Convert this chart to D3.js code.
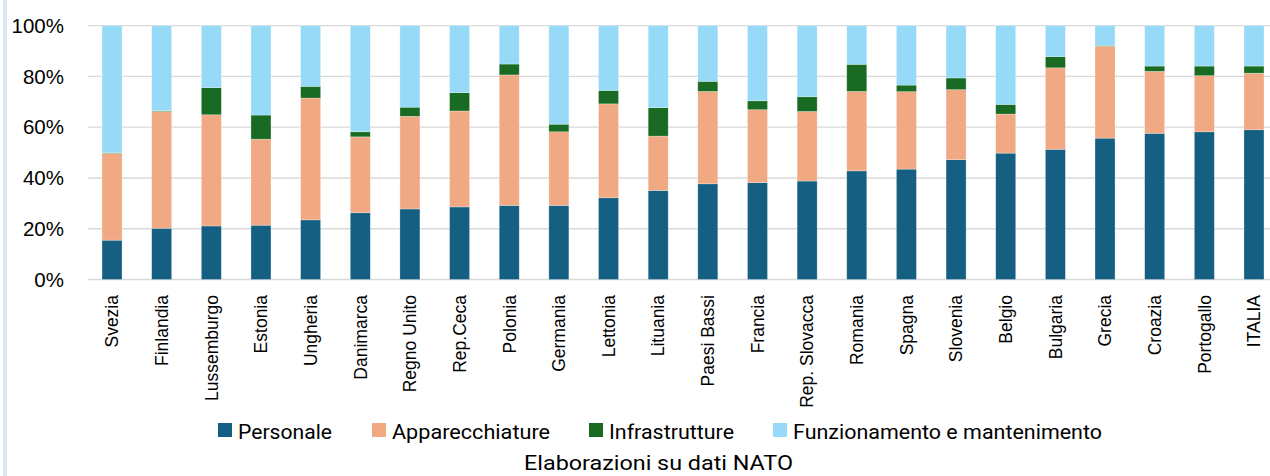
<!DOCTYPE html>
<html>
<head>
<meta charset="utf-8">
<script src="https://cdn.jsdelivr.net/npm/d3@7"></script>
<style>
  body { margin: 0; background: #fff; }
  svg { display: block; }
</style>
</head>
<body>
<div id="chart"></div>
<script>
// countries, sorted as in the source
var countries = ["Svezia","Finlandia","Lussemburgo","Estonia","Ungheria","Danimarca","Regno Unito",
  "Rep.Ceca","Polonia","Germania","Lettonia","Lituania","Paesi Bassi","Francia","Rep. Slovacca",
  "Romania","Spagna","Slovenia","Belgio","Bulgaria","Grecia","Croazia","Portogallo","ITALIA"];

// shares in %
var personale       = [15.5,20.2,21.1,21.4,23.5,26.3,27.8,28.6,29.2,29.2,32.2,35.1,37.7,38.2,38.8,42.8,43.5,47.2,49.8,51.3,55.7,57.6,58.2,59.0];
var apparecchiature = [34.2,46.0,43.8,33.9,48.0,29.9,36.5,37.8,51.4,29.0,37.0,21.4,36.4,28.7,27.4,31.3,30.5,27.6,15.4,32.1,36.2,24.4,22.1,22.3];
var infrastrutture  = [0.3,0.3,10.7,9.5,4.6,2.0,3.6,7.2,4.3,3.0,5.3,11.2,4.0,3.5,5.8,10.7,2.6,4.6,3.8,4.4,0.3,2.1,3.8,2.8];
var funzionamento   = [50.0,33.5,24.4,35.2,23.9,41.8,32.1,26.4,15.1,38.8,25.5,32.3,21.9,29.6,28.0,15.2,23.4,20.6,31.0,12.2,7.8,15.9,15.9,15.9];

var seriesNames = ["Personale","Apparecchiature","Infrastrutture","Funzionamento e mantenimento"];
var seriesColors = ["#156082","#F1A983","#196B24","#97DAF7"];
var yTicks = [0,0.2,0.4,0.6,0.8,1];

var W = 1270, H = 476;
var svg = d3.select("#chart").append("svg").attr("width", W).attr("height", H);

// left light stripe
svg.append("rect").attr("x",3).attr("y",0).attr("width",4).attr("height",H).attr("fill","#dae8f6");

var x = d3.scaleBand().domain(countries).range([87.2, 1278.8]).paddingInner(0.597).paddingOuter(0.2985);
var y = d3.scaleLinear().domain([0,1]).range([279.5, 25.7]);

// gridlines
svg.append("g").selectAll("line").data(yTicks).enter().append("line")
  .attr("x1",88).attr("x2",W)
  .attr("y1",function(d){return y(d);}).attr("y2",function(d){return y(d);})
  .attr("stroke","#d9d9d9").attr("stroke-width",1.3);

// y axis labels
var yAxis = d3.axisLeft(y).tickValues(yTicks).tickFormat(d3.format(".0%")).tickSize(0).tickPadding(0);
var ya = svg.append("g").attr("transform","translate(64,0)").call(yAxis);
ya.select(".domain").remove();
ya.selectAll("text").attr("font-family","'Liberation Sans', Arial, sans-serif")
  .attr("font-size","20.5px").attr("fill","#000");

// stacked data
var rows = countries.map(function(c,i){
  return {country:c, s0:personale[i]/100, s1:apparecchiature[i]/100, s2:infrastrutture[i]/100, s3:funzionamento[i]/100};
});
var stack = d3.stack().keys(["s0","s1","s2","s3"]);
var stacked = stack(rows);

svg.append("g").selectAll("g").data(stacked).enter().append("g")
  .attr("fill",function(d,i){return seriesColors[i];})
  .selectAll("rect").data(function(d){return d;}).enter().append("rect")
  .attr("x",function(d){return x(d.data.country);})
  .attr("width",x.bandwidth())
  .attr("y",function(d){return y(d[1]);})
  .attr("height",function(d){return y(d[0]) - y(d[1]);})
  .attr("stroke","#ffffff").attr("stroke-opacity",0.45).attr("stroke-width",0.6);

// x labels, rotated
var xAxis = d3.axisBottom(x).tickSize(0).tickPadding(0);
var xa = svg.append("g").attr("transform","translate(0,295)").call(xAxis);
xa.select(".domain").remove();
xa.selectAll("text")
  .attr("font-family","'Liberation Sans', Arial, sans-serif")
  .attr("font-size","17.5px").attr("fill","#000")
  .attr("text-anchor","end")
  .attr("transform","rotate(-90)")
  .attr("x",0).attr("y",0).attr("dy","0.36em");

// legend
var legendX = [218, 372, 589, 773];
var legendW = [94, 158, 125, 309];
var lg = svg.append("g").selectAll("g").data(seriesNames).enter().append("g")
  .attr("transform",function(d,i){return "translate("+legendX[i]+",0)";});
lg.append("rect").attr("x",0).attr("y",423).attr("width",14).attr("height",14)
  .attr("fill",function(d,i){return seriesColors[i];});
lg.append("text").attr("x",20).attr("y",439)
  .attr("font-family","Roboto, 'Noto Sans', sans-serif").attr("font-size","21px").attr("fill","#000")
  .attr("textLength",function(d,i){return legendW[i];}).attr("lengthAdjust","spacingAndGlyphs")
  .text(function(d){return d;});

// source caption (kept just inside the bottom edge)
svg.append("text").attr("x",524).attr("y",470)
  .attr("font-family","Roboto, 'Noto Sans', sans-serif").attr("font-size","20px").attr("fill","#000")
  .attr("textLength",269).attr("lengthAdjust","spacingAndGlyphs")
  .text("Elaborazioni su dati NATO");
</script>
</body>
</html>
